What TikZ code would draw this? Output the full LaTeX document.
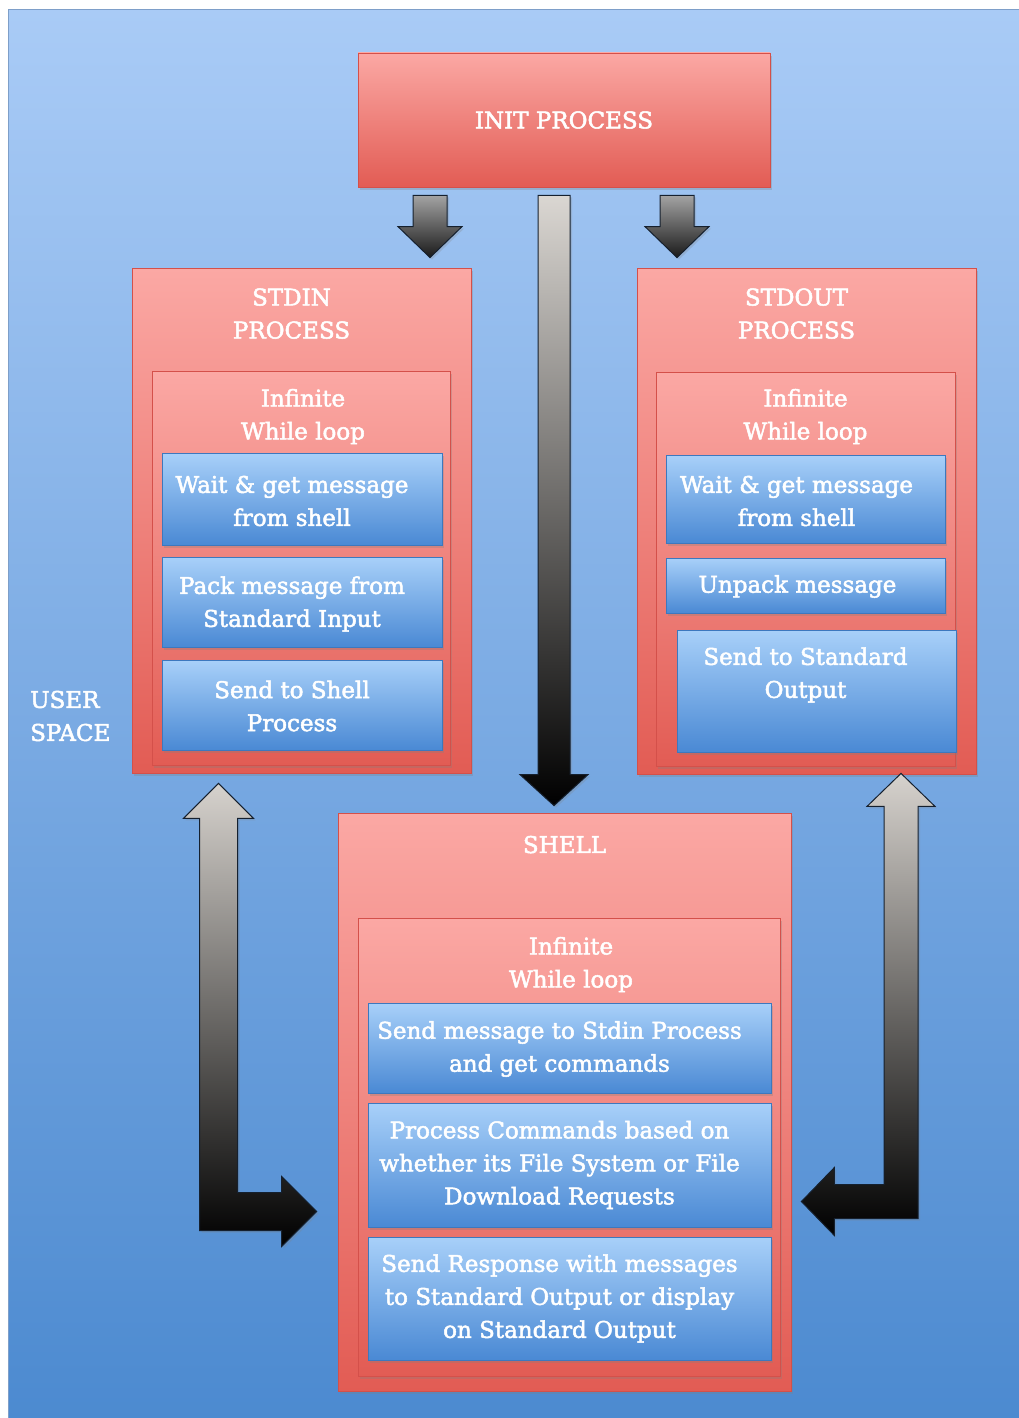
\documentclass[tikz,border=0pt]{standalone}
\usepackage{fontspec}
\setmainfont{DejaVu Serif}[FakeBold=2.2]
\usetikzlibrary{calc,shadows}
\definecolor{bgtop}{HTML}{A9CBF6}
\definecolor{bgbot}{HTML}{4C8AD0}
\definecolor{bgedge}{HTML}{7E9FC9}
\definecolor{redtop}{HTML}{FBA8A4}
\definecolor{redbot}{HTML}{E25C54}
\definecolor{redline}{HTML}{D4504A}
\definecolor{bluetop}{HTML}{A8D0F9}
\definecolor{bluebot}{HTML}{4A89D4}
\definecolor{blueline}{HTML}{3D78BE}
\definecolor{arrowline}{HTML}{15202E}
\definecolor{graylight}{HTML}{D6D2CD}
\definecolor{graymid}{HTML}{A3A3A3}
\definecolor{graydark}{HTML}{1A1A1A}

\tikzset{
  txt/.style={text=white, font=\fontsize{23}{33}\selectfont, align=center, inner sep=0pt},
  boxshadow/.style={drop shadow={shadow xshift=2pt, shadow yshift=-3pt, opacity=0.3}},
  redbox/.style={draw=redline, line width=0.8pt, top color=redtop, bottom color=redbot, boxshadow, inner sep=0pt},
  bluebox/.style={draw=blueline, line width=0.8pt, top color=bluetop, bottom color=bluebot, boxshadow, inner sep=0pt},
  blockarrow/.style={draw=arrowline, line width=1pt, line join=miter,
    drop shadow={shadow xshift=2pt, shadow yshift=-2pt, opacity=0.25}},
}

% straight block arrow pointing down: start, tip, half shaft, half head, head length, style
\newcommand\downblock[6]{%
  \path[blockarrow,#6] let \p1=(#1),\p2=(#2) in
    (\x1-#3,\y1) -- (\x1+#3,\y1) -- (\x1+#3,\y2+#5) -- (\x1+#4,\y2+#5)
    -- (\x1,\y2) -- (\x1-#4,\y2+#5) -- (\x1-#3,\y2+#5) -- cycle;}
% L-shaped two-headed block arrow: upper tip, side tip (to the right)
\newcommand\lblockright[6]{%
  \path[blockarrow,#6] let \p1=(#1),\p2=(#2) in
    (\x1,\y1) -- (\x1+#4,\y1-#5) -- (\x1+#3,\y1-#5) -- (\x1+#3,\y2+#3)
    -- (\x2-#5,\y2+#3) -- (\x2-#5,\y2+#4) -- (\x2,\y2) -- (\x2-#5,\y2-#4)
    -- (\x2-#5,\y2-#3) -- (\x1-#3,\y2-#3) -- (\x1-#3,\y1-#5) -- (\x1-#4,\y1-#5) -- cycle;}
% L-shaped two-headed block arrow: upper tip, side tip (to the left)
\newcommand\lblockleft[6]{%
  \path[blockarrow,#6] let \p1=(#1),\p2=(#2) in
    (\x1,\y1) -- (\x1-#4,\y1-#5) -- (\x1-#3,\y1-#5) -- (\x1-#3,\y2+#3)
    -- (\x2+#5,\y2+#3) -- (\x2+#5,\y2+#4) -- (\x2,\y2) -- (\x2+#5,\y2-#4)
    -- (\x2+#5,\y2-#3) -- (\x1+#3,\y2-#3) -- (\x1+#3,\y1-#5) -- (\x1+#4,\y1-#5) -- cycle;}

\begin{document}
\begin{tikzpicture}[x=1pt,y=-1pt]
\useasboundingbox (0,0) rectangle (1018,1418);
\fill[white] (0,0) rectangle (1018,1418);
\path[top color=bgtop,bottom color=bgbot,draw=bgedge,line width=1pt] (8,10) rectangle (1020,1420);

\node[txt,align=left,anchor=west] (userspace) at (30,716) {USER\\SPACE};

% init process
\node[redbox,txt,minimum width=412pt,minimum height=134pt] (init) at (564,120) {INIT PROCESS};

% stdin process
\node[redbox,minimum width=339pt,minimum height=505pt] (stdin) at (301.5,520.5) {};
\node[redbox,minimum width=298pt,minimum height=394pt] (stdinloop) at (301,568) {};
\node[txt] (stdinT) at ($(stdin.north)+(-10,46)$) {STDIN\\PROCESS};
\node[txt] (stdinL) at ($(stdinloop.north)+(2,46)$) {Infinite\\While loop};
\node[bluebox,minimum width=280pt,minimum height=92pt] (in1) at (302,499) {};
\node[bluebox,minimum width=280pt,minimum height=90pt] (in2) at (302,602) {};
\node[bluebox,minimum width=280pt,minimum height=90pt] (in3) at (302,705) {};
\node[txt] (in1T) at ($(in1)+(-10,2)$) {Wait \& get message\\from shell};
\node[txt] (in2T) at ($(in2)+(-10,2)$) {Pack message from\\Standard Input};
\node[txt] (in3T) at ($(in3)+(-10,1)$) {Send to Shell\\Process};

% stdout process
\node[redbox,minimum width=339pt,minimum height=506pt] (stdout) at (806.5,521) {};
\node[redbox,minimum width=299pt,minimum height=394pt] (stdoutloop) at (805.5,569) {};
\node[txt] (stdoutT) at ($(stdout.north)+(-10,46)$) {STDOUT\\PROCESS};
\node[txt] (stdoutL) at ($(stdoutloop.north)+(0,45)$) {Infinite\\While loop};
\node[bluebox,minimum width=279pt,minimum height=88pt] (out1) at (805.5,499) {};
\node[bluebox,minimum width=279pt,minimum height=55pt] (out2) at (805.5,585.5) {};
\node[bluebox,minimum width=279pt,minimum height=122pt] (out3) at (816.5,691) {};
\node[txt] (out1T) at ($(out1)+(-9,2)$) {Wait \& get message\\from shell};
\node[txt] (out2T) at ($(out2)+(-8,1)$) {Unpack message};
\node[txt] (out3T) at ($(out3)+(-11,-16)$) {Send to Standard\\Output};

% shell
\node[redbox,minimum width=453pt,minimum height=578pt] (shell) at (564.5,1102) {};
\node[redbox,minimum width=422pt,minimum height=458pt] (shellloop) at (569,1147) {};
\node[txt] (shellT) at ($(shell.north)+(0,32)$) {SHELL};
\node[txt] (shellL) at ($(shellloop.north)+(2,47)$) {Infinite\\While loop};
\node[bluebox,minimum width=403pt,minimum height=90pt] (sh1) at (569.5,1048) {};
\node[bluebox,minimum width=403pt,minimum height=124pt] (sh2) at (569.5,1165) {};
\node[bluebox,minimum width=403pt,minimum height=123pt] (sh3) at (569.5,1298.5) {};
\node[txt] (sh1T) at ($(sh1)+(-10,1)$) {Send message to Stdin Process\\and get commands};
\node[txt] (sh2T) at ($(sh2)+(-10,0)$) {Process Commands based on\\whether its File System or File\\Download Requests};
\node[txt] (sh3T) at ($(sh3)+(-10,0)$) {Send Response with messages\\to Standard Output or display\\on Standard Output};

% arrow end points
\coordinate (toInS) at ($(init.south)+(-134,8)$);
\coordinate (toInE) at (toInS |- {$(stdin.north)+(0,-10)$});
\coordinate (toOutS) at ($(init.south)+(113,8)$);
\coordinate (toOutE) at (toOutS |- {$(stdout.north)+(0,-10)$});
\coordinate (toShS) at ($(init.south)+(-10,8)$);
\coordinate (toShE) at (toShS |- {$(shell.north)+(0,-7)$});
\coordinate (inUp) at ($(stdin.south)+(-83,10)$);
\coordinate (inSide) at ($(shell.west)+(-21,109.5)$);
\coordinate (outUp) at ($(stdout.south)+(94.5,-1)$);
\coordinate (outSide) at ($(shell.east)+(10,99.5)$);

% connectors
\downblock{toInS}{toInE}{17pt}{32pt}{31pt}{top color=graymid,bottom color=graydark}
\downblock{toOutS}{toOutE}{17pt}{32pt}{31pt}{top color=graymid,bottom color=graydark}
\downblock{toShS}{toShE}{16pt}{34pt}{31pt}{top color=graylight!90!white,bottom color=black}
\lblockright{inUp}{inSide}{19pt}{35pt}{35pt}{top color=graylight,bottom color=black}
\lblockleft{outUp}{outSide}{17pt}{34pt}{33pt}{top color=graylight,bottom color=black}
\end{tikzpicture}
\end{document}
